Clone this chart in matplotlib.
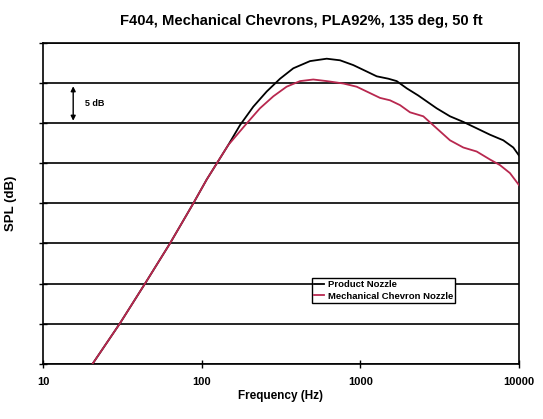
import matplotlib
matplotlib.use("Agg")
import matplotlib.pyplot as plt
from matplotlib.ticker import FixedLocator, NullLocator, NullFormatter

plt.rcParams['font.family'] = ['Liberation Sans', 'DejaVu Sans']

# Product nozzle (black)
freq_product = [20.6, 30.5, 44, 63.1, 88.5, 107.6, 147, 174.5, 211.5, 257, 312, 378, 482,
                614, 745, 903, 1097, 1268, 1501, 1695, 1960, 2318, 3027, 3673, 4456,
                5410, 6562, 7962, 9205, 10000]
spl_product = [0, 5, 10, 15, 20, 23, 27.3, 29.8, 32.1, 34.0, 35.6, 36.9, 37.8,
               38.1, 37.9, 37.3, 36.5, 35.9, 35.6, 35.3, 34.4, 33.5, 31.9, 30.9, 30.2,
               29.4, 28.6, 27.9, 27.0, 26.0]

# Mechanical chevron nozzle (red)
freq_chevron = [20.6, 30.5, 44, 63.1, 88.5, 107.6, 147, 192, 233, 283, 343, 417, 505,
                614, 781, 948, 1151, 1331, 1538, 1778, 2056, 2494, 3027, 3673, 4456,
                5410, 6562, 7586, 8770, 10000]
spl_chevron = [0, 5, 10, 15, 20, 23, 27.3, 30.0, 31.9, 33.4, 34.6, 35.3, 35.5,
               35.3, 35.0, 34.6, 33.8, 33.2, 32.9, 32.3, 31.4, 30.9, 29.4, 27.9, 27.0,
               26.5, 25.5, 24.8, 23.8, 22.3]

x_ticks = [10, 100, 1000, 10000]
x_tick_labels = ["10", "100", "1000", "10000"]
y_grid = [0, 5, 10, 15, 20, 25, 30, 35, 40]

fig = plt.figure(figsize=(5.43, 4.19), dpi=100)
ax = fig.add_axes([43/543, 1-363.5/419, (519-43)/543, (363.5-43.5)/419])

ax.set_xscale('log')
ax.set_xlim(10, 10000)
ax.set_ylim(0, 40)

for y in y_grid:
    ax.axhline(y, color='black', lw=1.2, zorder=1)

ax.plot(freq_product, spl_product, color='black', lw=1.3, label='Product Nozzle',
        zorder=3, solid_joinstyle='round')
ax.plot(freq_chevron, spl_chevron, color='#b8284f', lw=1.3, label='Mechanical Chevron Nozzle',
        zorder=3, solid_joinstyle='round')

ax.xaxis.set_major_locator(FixedLocator(x_ticks))
ax.set_xticklabels(x_tick_labels, fontsize=8, fontweight='bold')
ax.xaxis.set_minor_locator(NullLocator())
ax.xaxis.set_minor_formatter(NullFormatter())
ax.yaxis.set_major_locator(FixedLocator(y_grid))
ax.set_yticklabels([])
ax.tick_params(axis='both', direction='inout', length=6, width=1, color='black', pad=7)

for s in ax.spines.values():
    s.set_linewidth(1.2)
    s.set_color('black')

ax.set_xlabel('Frequency (Hz)', fontsize=8.5, fontweight='bold', labelpad=2)
ax.set_ylabel('SPL (dB)', fontsize=9.5, fontweight='bold', labelpad=9)
fig.text(301/543, 1-21/419, 'F404, Mechanical Chevrons, PLA92%, 135 deg, 50 ft',
         ha='center', va='center', fontsize=10.6, fontweight='bold')

# 5 dB scale arrow
ax.annotate('', xy=(15.5, 35), xytext=(15.5, 30),
            arrowprops=dict(arrowstyle='<|-|>', color='black', lw=1, mutation_scale=7))
ax.text(18.3, 32.5, '5 dB', fontsize=6.5, fontweight='bold', va='center', ha='left')

leg = ax.legend(loc='upper left', bbox_to_anchor=((312-43)/476, (363.5-278)/320),
                fontsize=6.8, frameon=True, fancybox=False, edgecolor='black',
                framealpha=1, handlelength=1.0, handletextpad=0.4, borderpad=0.25,
                labelspacing=0.25, borderaxespad=0)
leg.get_frame().set_linewidth(1)
for t in leg.get_texts():
    t.set_fontweight('bold')

fig.savefig('out.png', dpi=100, facecolor='white')
